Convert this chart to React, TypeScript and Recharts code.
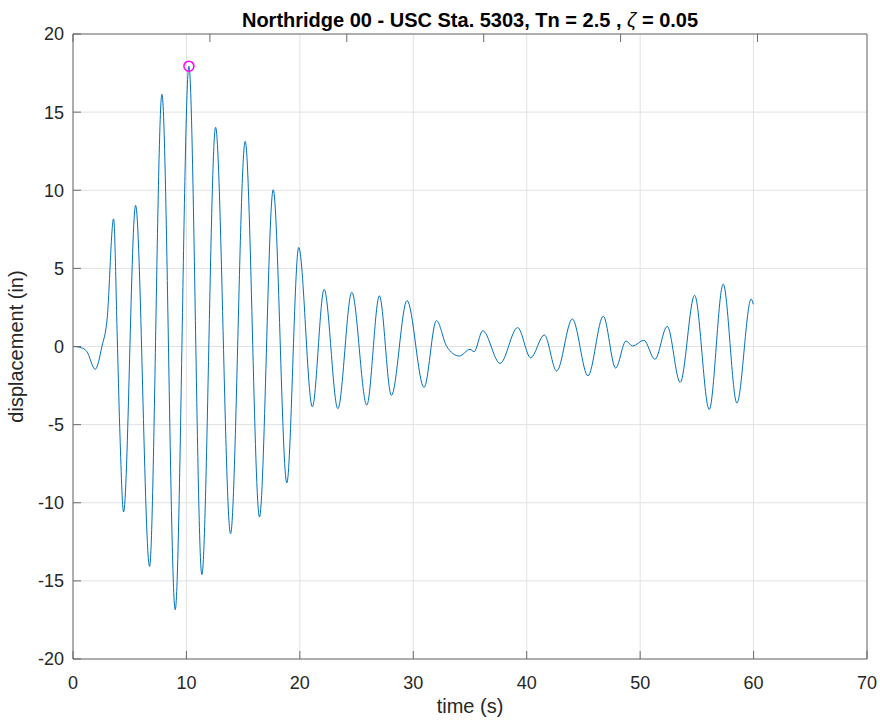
import { LineChart, Line, XAxis, YAxis, CartesianGrid, ReferenceDot, Label } from 'recharts';

// time (s) and displacement (in) at peaks, troughs and kinks
const times = [
  0, 0.6, 1.2, 1.96, 2.55, 3.0, 3.58, 3.9, 4.12, 4.46, 5.52, 6.75, 7.84, 9.01, 10.22,
  11.36, 12.57, 13.89, 15.18, 16.44, 17.65, 18.85, 19.9, 21.1, 22.14, 23.35, 24.58,
  25.9, 27.01, 28.07, 29.45, 30.95, 32.04, 32.95, 34.06, 35.0, 35.36, 36.12, 37.65,
  39.2, 40.35, 41.55, 42.64, 44.02, 45.4, 46.75, 47.84, 48.75, 49.34, 50.33, 51.3,
  52.39, 53.53, 54.8, 56.09, 57.32, 58.53, 59.79, 59.97,
];
const displacement = [
  0, -0.05, -0.3, -1.46, 0, 1.7, 8.17, 0.6, -5.2, -10.59, 9.03, -14.07, 16.14, -16.85, 17.94,
  -14.6, 14.03, -11.98, 13.13, -10.91, 10.03, -8.73, 6.34, -3.86, 3.66, -3.98, 3.47,
  -3.75, 3.24, -3.13, 2.94, -2.62, 1.66, 0.0, -0.61, -0.18, -0.33, 1.01, -1.08,
  1.21, -0.72, 0.74, -1.57, 1.76, -1.87, 1.94, -1.38, 0.35, 0.03, 0.4, -0.82,
  1.29, -2.3, 3.28, -4.03, 3.99, -3.62, 3.04, 2.7,
];
const xTicks = [0, 10, 20, 30, 40, 50, 60, 70];
const yTicks = [-20, -15, -10, -5, 0, 5, 10, 15, 20];
const peakTime = 10.22;
const peakDisp = 17.94;

const data = times.map((t, i) => ({ t, d: displacement[i] }));

const font = '"Liberation Sans", Arial, Helvetica, sans-serif';
const axisColor = '#6b6b6b';
const textColor = '#262626';
const tickStyle = { fill: textColor, fontSize: 18, fontFamily: font };
const blank = () => '';

export default function App() {
  return (
    <div style={{ position: 'absolute', left: 0, top: 0, width: 880, height: 721, background: '#ffffff' }}>
      <LineChart width={880} height={721} data={data} margin={{ top: 0, right: 0, bottom: 0, left: 0 }}>
        <CartesianGrid stroke="#e2e2e2" />
        <XAxis
          type="number"
          dataKey="t"
          domain={[0, 70]}
          ticks={xTicks}
          interval={0}
          height={62}
          tickSize={-8}
          tickMargin={25}
          stroke={axisColor}
          tick={tickStyle}
        >
          <Label
            content={({ viewBox }: any) => (
              <text
                x={viewBox.x + viewBox.width / 2}
                y={713}
                textAnchor="middle"
                fill={textColor}
                fontSize={20}
                fontFamily={font}
              >
                time (s)
              </text>
            )}
          />
        </XAxis>
        <XAxis
          xAxisId="top"
          orientation="top"
          type="number"
          domain={[0, 70]}
          ticks={xTicks}
          interval={0}
          height={34}
          tickSize={-8}
          stroke={axisColor}
          tickFormatter={blank}
        >
          <Label
            content={({ viewBox }: any) => (
              <text
                x={viewBox.x + viewBox.width / 2}
                y={27}
                textAnchor="middle"
                fill="#000000"
                fontSize={20}
                fontWeight="bold"
                fontFamily={font}
              >
                Northridge 00 - USC Sta. 5303, Tn = 2.5 , <tspan fontStyle="italic" fontWeight="normal">ζ</tspan> = 0.05
              </text>
            )}
          />
        </XAxis>
        <YAxis
          type="number"
          domain={[-20, 20]}
          ticks={yTicks}
          interval={0}
          width={73}
          tickSize={-8}
          tickMargin={17}
          stroke={axisColor}
          tick={tickStyle}
        >
          <Label
            content={({ viewBox }: any) => {
              const cy = viewBox.y + viewBox.height / 2;
              return (
                <text
                  x={23}
                  y={cy}
                  transform={`rotate(-90, 23, ${cy})`}
                  textAnchor="middle"
                  fill={textColor}
                  fontSize={20}
                  fontFamily={font}
                >
                  displacement (in)
                </text>
              );
            }}
          />
        </YAxis>
        <YAxis
          yAxisId="right"
          orientation="right"
          type="number"
          domain={[-20, 20]}
          ticks={yTicks}
          interval={0}
          width={13}
          tickSize={-8}
          stroke={axisColor}
          tickFormatter={blank}
        />
        <Line
          type="monotone"
          dataKey="d"
          stroke="#0072BD"
          strokeWidth={1}
          dot={false}
          activeDot={false}
          isAnimationActive={false}
        />
        <ReferenceDot x={peakTime} y={peakDisp} r={5} fill="none" stroke="#FF00FF" strokeWidth={1.5} />
      </LineChart>
    </div>
  );
}
